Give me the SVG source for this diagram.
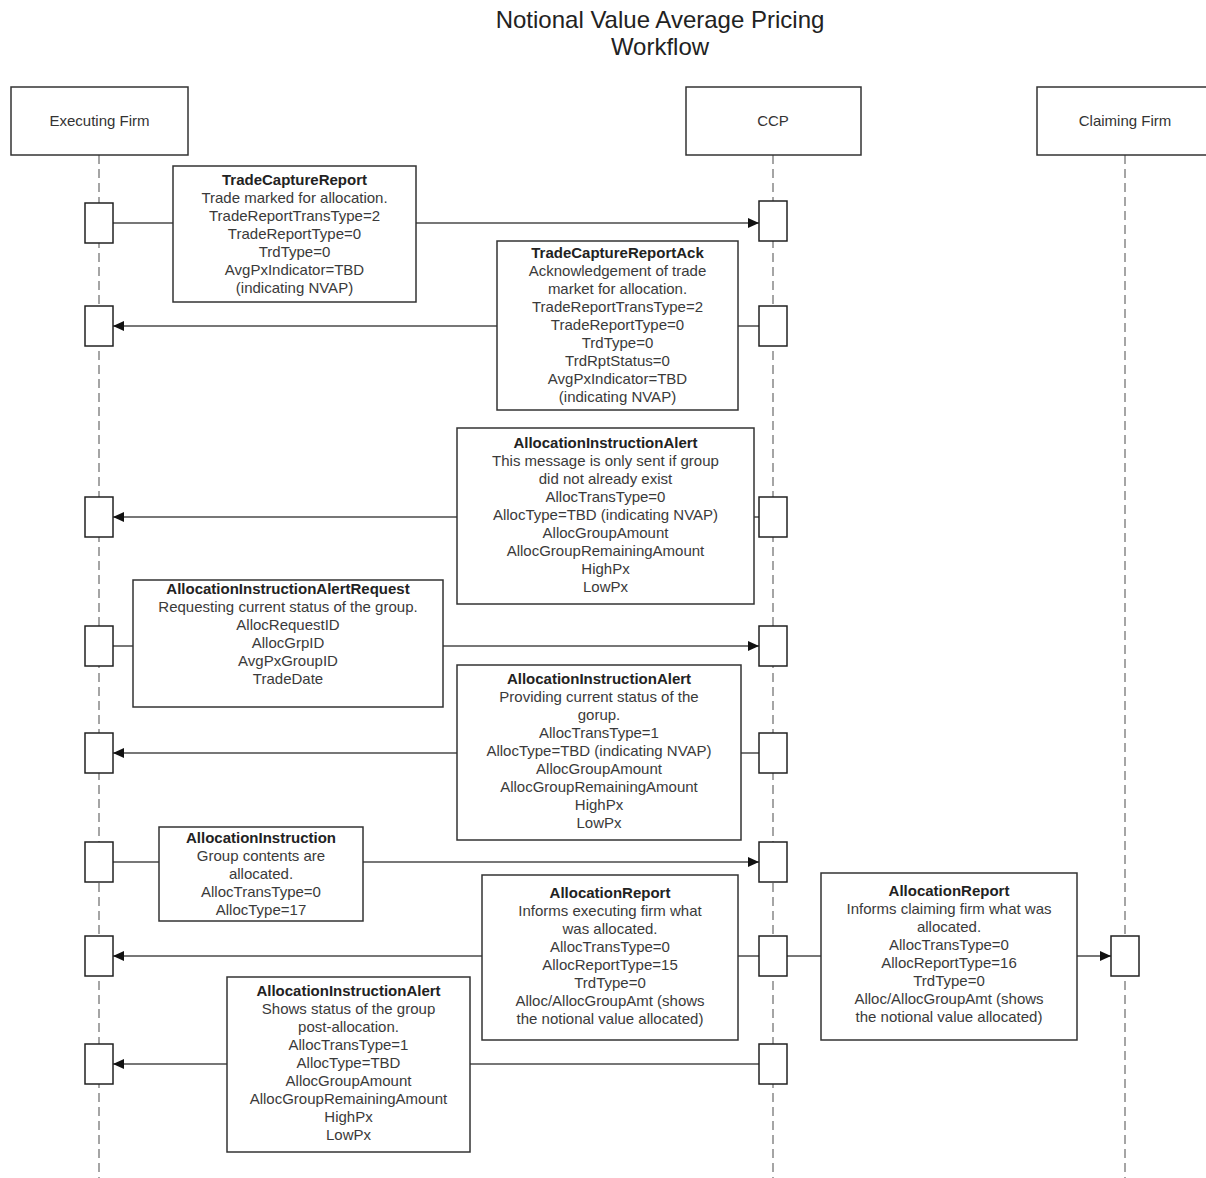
<svg xmlns="http://www.w3.org/2000/svg" width="1206" height="1178" viewBox="0 0 1206 1178">
<style>
  text { font-family: "Liberation Sans", Arial, sans-serif; }
  .title { font-size: 24px; fill: #222; text-anchor: middle; }
  .hdr { fill: #fff; stroke: #333; stroke-width: 1.5; }
  .hdrtxt { font-size: 15px; fill: #333; text-anchor: middle; }
  .life { stroke: #888; stroke-width: 1.5; stroke-dasharray: 9 5; fill: none; }
  .act { fill: #fff; stroke: #222; stroke-width: 1.5; }
  .msg { fill: #fff; stroke: #333; stroke-width: 1.5; }
  .conn { stroke: #777; stroke-width: 2; fill: none; }
  .t { font-size: 15px; fill: #3a3a3a; text-anchor: middle; }
  .b { font-weight: bold; fill: #222; }
</style>
<defs>
  <marker id="arr" markerUnits="userSpaceOnUse" markerWidth="12" markerHeight="10" refX="11" refY="5" orient="auto">
    <path d="M0,0 L11,5 L0,10 Z" fill="#111"/>
  </marker>
</defs>
<rect width="1206" height="1178" fill="#fff"/>
<g id="title">
  <text class="title" x="660" y="28">Notional Value Average Pricing</text>
  <text class="title" x="660" y="55">Workflow</text>
</g>
<g id="lifelines">
  <line class="life" x1="99" y1="155" x2="99" y2="1178"/>
  <line class="life" x1="773" y1="155" x2="773" y2="1178"/>
  <line class="life" x1="1125" y1="155" x2="1125" y2="1178"/>
</g>
<g id="executing-firm">
  <rect class="hdr" x="11" y="87" width="177" height="68"/>
  <text class="hdrtxt" x="99.5" y="126">Executing Firm</text>
</g>
<g id="ccp">
  <rect class="hdr" x="686" y="87" width="175" height="68"/>
  <text class="hdrtxt" x="773" y="126">CCP</text>
</g>
<g id="claiming-firm">
  <rect class="hdr" x="1037" y="87" width="180" height="68"/>
  <text class="hdrtxt" x="1125" y="126">Claiming Firm</text>
</g>
<g id="connectors">
  <line class="conn" x1="113" y1="223" x2="759" y2="223" marker-end="url(#arr)"/>
  <line class="conn" x1="759" y1="326" x2="113" y2="326" marker-end="url(#arr)"/>
  <line class="conn" x1="759" y1="517" x2="113" y2="517" marker-end="url(#arr)"/>
  <line class="conn" x1="113" y1="646" x2="759" y2="646" marker-end="url(#arr)"/>
  <line class="conn" x1="759" y1="753" x2="113" y2="753" marker-end="url(#arr)"/>
  <line class="conn" x1="113" y1="862" x2="759" y2="862" marker-end="url(#arr)"/>
  <line class="conn" x1="759" y1="956" x2="113" y2="956" marker-end="url(#arr)"/>
  <line class="conn" x1="787" y1="956" x2="1111" y2="956" marker-end="url(#arr)"/>
  <line class="conn" x1="759" y1="1064" x2="113" y2="1064" marker-end="url(#arr)"/>
</g>
<g id="activations">
  <rect class="act" x="85" y="203" width="28" height="40"/>
  <rect class="act" x="85" y="306" width="28" height="40"/>
  <rect class="act" x="85" y="497" width="28" height="40"/>
  <rect class="act" x="85" y="626" width="28" height="40"/>
  <rect class="act" x="85" y="733" width="28" height="40"/>
  <rect class="act" x="85" y="842" width="28" height="40"/>
  <rect class="act" x="85" y="936" width="28" height="40"/>
  <rect class="act" x="85" y="1044" width="28" height="40"/>
  <rect class="act" x="759" y="201" width="28" height="40"/>
  <rect class="act" x="759" y="306" width="28" height="40"/>
  <rect class="act" x="759" y="497" width="28" height="40"/>
  <rect class="act" x="759" y="626" width="28" height="40"/>
  <rect class="act" x="759" y="733" width="28" height="40"/>
  <rect class="act" x="759" y="842" width="28" height="40"/>
  <rect class="act" x="759" y="936" width="28" height="40"/>
  <rect class="act" x="759" y="1044" width="28" height="40"/>
  <rect class="act" x="1111" y="936" width="28" height="40"/>
</g>
<g id="msg-tcr">
  <rect class="msg" x="173" y="166" width="243" height="136"/>
  <text class="t" x="294.5" y="185"><tspan class="b">TradeCaptureReport</tspan><tspan x="294.5" dy="18">Trade marked for allocation.</tspan><tspan x="294.5" dy="18">TradeReportTransType=2</tspan><tspan x="294.5" dy="18">TradeReportType=0</tspan><tspan x="294.5" dy="18">TrdType=0</tspan><tspan x="294.5" dy="18">AvgPxIndicator=TBD</tspan><tspan x="294.5" dy="18">(indicating NVAP)</tspan></text>
</g>
<g id="msg-tcrack">
  <rect class="msg" x="497" y="241" width="241" height="169"/>
  <text class="t" x="617.5" y="258"><tspan class="b">TradeCaptureReportAck</tspan><tspan x="617.5" dy="18">Acknowledgement of trade</tspan><tspan x="617.5" dy="18">market for allocation.</tspan><tspan x="617.5" dy="18">TradeReportTransType=2</tspan><tspan x="617.5" dy="18">TradeReportType=0</tspan><tspan x="617.5" dy="18">TrdType=0</tspan><tspan x="617.5" dy="18">TrdRptStatus=0</tspan><tspan x="617.5" dy="18">AvgPxIndicator=TBD</tspan><tspan x="617.5" dy="18">(indicating NVAP)</tspan></text>
</g>
<g id="msg-aia1">
  <rect class="msg" x="457" y="428" width="297" height="176"/>
  <text class="t" x="605.5" y="448"><tspan class="b">AllocationInstructionAlert</tspan><tspan x="605.5" dy="18">This message is only sent if group</tspan><tspan x="605.5" dy="18">did not already exist</tspan><tspan x="605.5" dy="18">AllocTransType=0</tspan><tspan x="605.5" dy="18">AllocType=TBD (indicating NVAP)</tspan><tspan x="605.5" dy="18">AllocGroupAmount</tspan><tspan x="605.5" dy="18">AllocGroupRemainingAmount</tspan><tspan x="605.5" dy="18">HighPx</tspan><tspan x="605.5" dy="18">LowPx</tspan></text>
</g>
<g id="msg-aiareq">
  <rect class="msg" x="133" y="580" width="310" height="127"/>
  <text class="t" x="288" y="594"><tspan class="b">AllocationInstructionAlertRequest</tspan><tspan x="288" dy="18">Requesting current status of the group.</tspan><tspan x="288" dy="18">AllocRequestID</tspan><tspan x="288" dy="18">AllocGrpID</tspan><tspan x="288" dy="18">AvgPxGroupID</tspan><tspan x="288" dy="18">TradeDate</tspan></text>
</g>
<g id="msg-aia2">
  <rect class="msg" x="457" y="665" width="284" height="175"/>
  <text class="t" x="599" y="684"><tspan class="b">AllocationInstructionAlert</tspan><tspan x="599" dy="18">Providing current status of the</tspan><tspan x="599" dy="18">gorup.</tspan><tspan x="599" dy="18">AllocTransType=1</tspan><tspan x="599" dy="18">AllocType=TBD (indicating NVAP)</tspan><tspan x="599" dy="18">AllocGroupAmount</tspan><tspan x="599" dy="18">AllocGroupRemainingAmount</tspan><tspan x="599" dy="18">HighPx</tspan><tspan x="599" dy="18">LowPx</tspan></text>
</g>
<g id="msg-ai">
  <rect class="msg" x="159" y="827" width="204" height="94"/>
  <text class="t" x="261" y="843"><tspan class="b">AllocationInstruction</tspan><tspan x="261" dy="18">Group contents are</tspan><tspan x="261" dy="18">allocated.</tspan><tspan x="261" dy="18">AllocTransType=0</tspan><tspan x="261" dy="18">AllocType=17</tspan></text>
</g>
<g id="msg-ar-exec">
  <rect class="msg" x="482" y="875" width="256" height="165"/>
  <text class="t" x="610" y="898"><tspan class="b">AllocationReport</tspan><tspan x="610" dy="18">Informs executing firm what</tspan><tspan x="610" dy="18">was allocated.</tspan><tspan x="610" dy="18">AllocTransType=0</tspan><tspan x="610" dy="18">AllocReportType=15</tspan><tspan x="610" dy="18">TrdType=0</tspan><tspan x="610" dy="18">Alloc/AllocGroupAmt (shows</tspan><tspan x="610" dy="18">the notional value allocated)</tspan></text>
</g>
<g id="msg-ar-claim">
  <rect class="msg" x="821" y="873" width="256" height="167"/>
  <text class="t" x="949" y="896"><tspan class="b">AllocationReport</tspan><tspan x="949" dy="18">Informs claiming firm what was</tspan><tspan x="949" dy="18">allocated.</tspan><tspan x="949" dy="18">AllocTransType=0</tspan><tspan x="949" dy="18">AllocReportType=16</tspan><tspan x="949" dy="18">TrdType=0</tspan><tspan x="949" dy="18">Alloc/AllocGroupAmt (shows</tspan><tspan x="949" dy="18">the notional value allocated)</tspan></text>
</g>
<g id="msg-aia3">
  <rect class="msg" x="227" y="977" width="243" height="175"/>
  <text class="t" x="348.5" y="996"><tspan class="b">AllocationInstructionAlert</tspan><tspan x="348.5" dy="18">Shows status of the group</tspan><tspan x="348.5" dy="18">post-allocation.</tspan><tspan x="348.5" dy="18">AllocTransType=1</tspan><tspan x="348.5" dy="18">AllocType=TBD</tspan><tspan x="348.5" dy="18">AllocGroupAmount</tspan><tspan x="348.5" dy="18">AllocGroupRemainingAmount</tspan><tspan x="348.5" dy="18">HighPx</tspan><tspan x="348.5" dy="18">LowPx</tspan></text>
</g>
</svg>
